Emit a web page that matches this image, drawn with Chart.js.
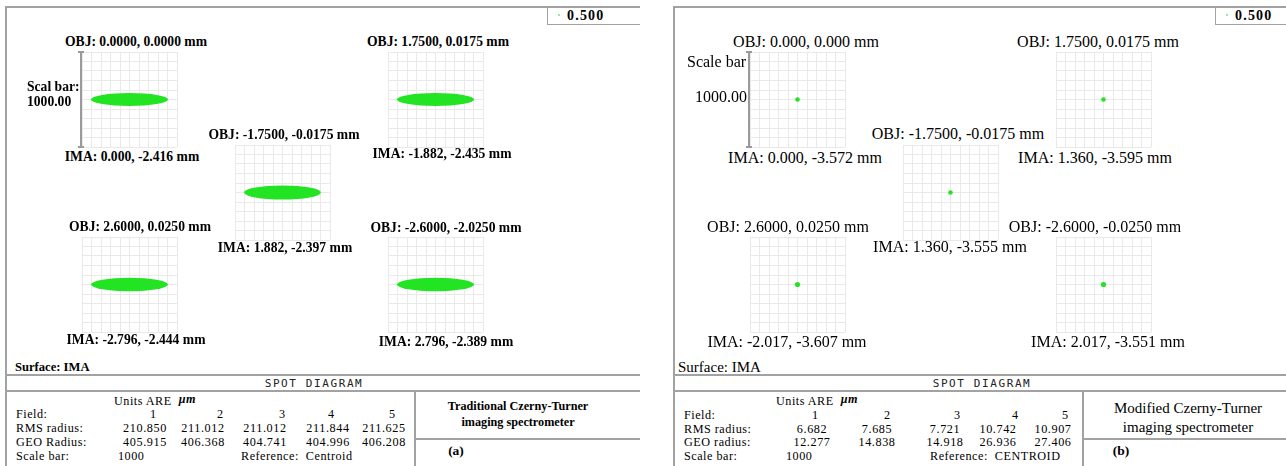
<!DOCTYPE html>
<html>
<head>
<meta charset="utf-8">
<script src="https://cdn.jsdelivr.net/npm/chart.js@4.4.1/dist/chart.umd.min.js"></script>
<style>
  html, body { margin: 0; padding: 0; background: #fff; }
  #page { position: relative; width: 1286px; height: 466px; overflow: hidden;
          font-family: "Liberation Serif", "Times New Roman", serif; color: #000; }
  .t { position: absolute; white-space: nowrap; line-height: 1; }
  .mu { font-weight: bold; font-style: italic; position: relative; top: -2px; }
  .ln { position: absolute; background: #a2a2a2; }
  canvas { position: absolute; }
</style>
</head>
<body>
<div id="page"></div>
<script>
// ---- spot diagram data (field 1..5), radii in micrometres ----
const FIELDS = [1, 2, 3, 4, 5];
const WAVELENGTH = 0.500;          // µm
const SCALE_BAR = 1000;            // µm, full height of each grid box
const GRID_STEP = 100;             // µm per grid cell

// (a) traditional Czerny-Turner
const OBJ_A = ['0.0000, 0.0000', '1.7500, 0.0175', '-1.7500, -0.0175', '2.6000, 0.0250', '-2.6000, -2.0250'];
const IMA_A = ['0.000, -2.416', '-1.882, -2.435', '1.882, -2.397', '-2.796, -2.444', '2.796, -2.389'];
const RMS_A = [210.850, 211.012, 211.012, 211.844, 211.625];
const GEO_A = [405.915, 406.368, 404.741, 404.996, 406.208];
const SPOT_HALF_HEIGHT_A = [68, 68, 74, 72, 72];   // vertical extent of the elongated spots

// (b) modified Czerny-Turner
const OBJ_B = ['0.000, 0.000', '1.7500, 0.0175', '-1.7500, -0.0175', '2.6000, 0.0250', '-2.6000, -0.0250'];
const IMA_B = ['0.000, -3.572', '1.360, -3.595', '1.360, -3.555', '-2.017, -3.607', '2.017, -3.551'];
const RMS_B = [6.682, 7.685, 7.721, 10.742, 10.907];
const GEO_B = [12.277, 14.838, 14.918, 26.936, 27.406];

// ---- page layout ----
const page = document.getElementById('page');
const GREEN = '#22e422';
const BOX = 95;      // grid box size in px
const PADL = 6;      // room left of the grid for the scale bar
const ROW = 13.8;    // table row pitch in px
const TSIZE = 12.2;  // table font size

function text(str, x, y, size, o = {}) {
  const d = document.createElement('div');
  d.className = 't';
  if (o.html) d.innerHTML = str; else d.textContent = str;
  d.style.fontSize = size + 'px';
  d.style.left = x + 'px';
  d.style.top = y + 'px';
  const ax = o.align === 'center' ? '-50%' : o.align === 'right' ? '-100%' : '0';
  d.style.transform = `translate(${ax},-50%)`;
  if (o.weight) d.style.fontWeight = o.weight;
  if (o.style) d.style.fontStyle = o.style;
  if (o.family) d.style.fontFamily = o.family;
  if (o.spacing) d.style.letterSpacing = o.spacing + 'px';
  if (o.color) d.style.color = o.color;
  page.appendChild(d);
  return d;
}
function hline(x1, x2, y, w = 2) {
  const d = document.createElement('div');
  d.className = 'ln';
  Object.assign(d.style, { left: x1 + 'px', top: (y - w / 2) + 'px', width: (x2 - x1) + 'px', height: w + 'px' });
  page.appendChild(d);
}
function vline(x, y1, y2, w = 2) {
  const d = document.createElement('div');
  d.className = 'ln';
  Object.assign(d.style, { left: (x - w / 2) + 'px', top: y1 + 'px', width: w + 'px', height: (y2 - y1) + 'px' });
  page.appendChild(d);
}

// draws every spot as a filled ellipse sized through the chart scales
const spotPlugin = {
  id: 'spot',
  afterDatasetsDraw(chart) {
    const { ctx, scales: { x, y } } = chart;
    chart.data.datasets.forEach(ds => {
      ds.data.forEach(p => {
        const cx = x.getPixelForValue(p.x);
        const cy = y.getPixelForValue(p.y);
        const rx = Math.max(Math.abs(x.getPixelForValue(p.x + p.rx) - cx), ds.minPx || 0);
        const ry = Math.max(Math.abs(y.getPixelForValue(p.y + p.ry) - cy), ds.minPx || 0);
        ctx.save();
        ctx.fillStyle = ds.backgroundColor;
        ctx.beginPath();
        ctx.ellipse(cx, cy, rx, ry, 0, 0, Math.PI * 2);
        ctx.fill();
        ctx.restore();
      });
    });
  }
};
// vertical scale bar on the left edge of the first field
const scaleBarPlugin = {
  id: 'scaleBar',
  afterDraw(chart, args, opts) {
    if (!opts.show) return;
    const { ctx, scales: { y }, chartArea } = chart;
    const x0 = chartArea.left - 1;
    const top = y.getPixelForValue(y.min + SCALE_BAR);
    const bot = y.getPixelForValue(y.min);
    ctx.save();
    ctx.strokeStyle = '#9a9a9a';
    ctx.lineWidth = 2;
    ctx.beginPath();
    ctx.moveTo(x0, top); ctx.lineTo(x0, bot);
    ctx.moveTo(x0 - 3, top); ctx.lineTo(x0 + 3, top);
    ctx.moveTo(x0 - 3, bot); ctx.lineTo(x0 + 3, bot);
    ctx.stroke();
    ctx.restore();
  }
};

function spotChart(left, top, rx, ry, minPx, withBar) {
  const c = document.createElement('canvas');
  c.width = BOX + PADL + 1; c.height = BOX + 2;
  c.style.left = (left - PADL) + 'px';
  c.style.top = (top - 1) + 'px';
  page.appendChild(c);
  const axis = {
    type: 'linear', min: -SCALE_BAR / 2, max: SCALE_BAR / 2,
    ticks: { display: false, stepSize: GRID_STEP },
    grid: { color: '#e9e9e9', lineWidth: 1, drawTicks: false },
    border: { display: false }
  };
  return new Chart(c, {
    type: 'scatter',
    data: { datasets: [{ data: [{ x: 0, y: 0, rx, ry }], pointRadius: 0, backgroundColor: GREEN, minPx }] },
    options: {
      responsive: false, animation: false, events: [],
      layout: { padding: { left: PADL, top: 1, right: 1, bottom: 1 } },
      plugins: { legend: { display: false }, tooltip: { enabled: false }, scaleBar: { show: withBar } },
      scales: { x: axis, y: JSON.parse(JSON.stringify(axis)) }
    },
    plugins: [spotPlugin, scaleBarPlugin]
  });
}

function panel(cfg) {
  const ox = cfg.ox;
  const R = ox + 640;
  // frame and table rules
  vline(ox + 6, 6, 466);
  hline(ox + 6, R, 7);
  hline(ox + 6, R, 375);
  hline(ox + 6, R, 391);
  vline(ox + 415, 391, 466);
  hline(ox + 415, R, 439);
  // wavelength legend box
  vline(ox + 547, 7, 24, 1);
  hline(ox + 547, R, 24, 1);
  const dot = document.createElement('div');
  Object.assign(dot.style, { position: 'absolute', left: (ox + 558) + 'px', top: '14px', width: '2px', height: '2px', background: '#9be89b' });
  page.appendChild(dot);
  text(WAVELENGTH.toFixed(3), ox + 567, 16, 14, { weight: 'bold', spacing: 1.2 });

  // spot grids with their labels
  FIELDS.forEach((f, i) => {
    const [gx, gy] = cfg.grid[i];
    const rx = cfg.geo[i];
    const ry = cfg.halfHeight ? cfg.halfHeight[i] : cfg.geo[i];
    spotChart(ox + gx, gy, rx, ry, cfg.minPx, i === 0);
    text('OBJ: ' + cfg.obj[i] + ' mm', cfg.objPos[i][0], cfg.objPos[i][1], cfg.labelSize, { align: 'center', weight: cfg.labelWeight });
    text('IMA: ' + cfg.ima[i] + ' mm', cfg.imaPos[i][0], cfg.imaPos[i][1], cfg.labelSize, { align: 'center', weight: cfg.labelWeight });
  });
  cfg.barText.forEach(b => text(b[0], b[1], b[2], cfg.labelSize, { weight: cfg.labelWeight }));
  text('Surface: IMA', cfg.surfaceX, 367, cfg.labelSize - 1, { weight: cfg.labelWeight });

  // summary table
  text('SPOT DIAGRAM', ox + 314, 383, 11, { align: 'center', family: '"DejaVu Sans Mono", monospace', spacing: 1.6, color: '#222' });
  const T = cfg.table;
  const y0 = T.firstRow;
  const sp = { spacing: 0.5 };
  text('Units ARE\u00a0 <span class="mu">\u03bcm</span>', T.unitsX, y0 - ROW, TSIZE, { html: true, spacing: 0.5 });
  ['Field:', 'RMS radius:', T.geoName, 'Scale bar:'].forEach((s, r) => text(s, ox + 16, y0 + r * ROW, TSIZE, sp));
  FIELDS.forEach((f, i) => {
    text(String(f), T.headX[i], y0, TSIZE, { align: 'center' });
    text(cfg.rms[i].toFixed(3), T.colX[i], y0 + ROW, TSIZE, { align: 'center', spacing: 0.6 });
    text(cfg.geo[i].toFixed(3), T.colX[i], y0 + 2 * ROW, TSIZE, { align: 'center', spacing: 0.6 });
  });
  text(String(SCALE_BAR), T.barX, y0 + 3 * ROW, TSIZE, sp);
  text('Reference:\u00a0 ' + T.ref, T.refX, y0 + 3 * ROW, TSIZE, sp);
  text(cfg.title[0], cfg.titleX, cfg.titleY[0], cfg.titleSize, { align: 'center', weight: cfg.titleWeight });
  text(cfg.title[1], cfg.titleX, cfg.titleY[1], cfg.titleSize, { align: 'center', weight: cfg.titleWeight });
  text(cfg.tag, cfg.tagX, 451, 13.5, { align: 'center', weight: 'bold' });
}

const GRID = [[82, 52], [388, 52], [235, 145], [82, 237], [388, 237]];

panel({
  ox: 0, geo: GEO_A, rms: RMS_A, halfHeight: SPOT_HALF_HEIGHT_A, minPx: 0,
  grid: GRID, obj: OBJ_A, ima: IMA_A, labelSize: 13.6, labelWeight: 'bold',
  objPos: [[136, 42], [438, 42], [284, 135], [140, 227], [446, 228]],
  imaPos: [[132, 157], [442, 154], [285, 248], [136, 340], [446, 342]],
  barText: [['Scal bar:', 27, 87], ['1000.00', 27, 102]],
  surfaceX: 15,
  table: { unitsX: 114, firstRow: 414.3,
           colX: [145, 203, 265, 328, 384], headX: [153, 220, 282, 331, 392],
           geoName: 'GEO Radius:', barX: 118, refX: 241, ref: 'Centroid' },
  title: ['Traditional Czerny-Turner', 'imaging spectrometer'], titleX: 518, titleY: [406, 422], titleSize: 12.2, titleWeight: 'bold',
  tag: '(a)', tagX: 456
});

panel({
  ox: 668, geo: GEO_B, rms: RMS_B, halfHeight: null, minPx: 2.3,
  grid: GRID, obj: OBJ_B, ima: IMA_B, labelSize: 16, labelWeight: 'normal',
  objPos: [[806, 42], [1098, 42], [958, 134], [788, 227], [1095, 227]],
  imaPos: [[805, 158], [1095, 158], [950, 247], [787, 342], [1108, 342]],
  barText: [['Scale bar', 687, 62], ['1000.00', 695, 97]],
  surfaceX: 678,
  table: { unitsX: 776, firstRow: 414.8,
           colX: [812, 877, 945, 998, 1053], headX: [815, 887, 957, 1015, 1065],
           geoName: 'GEO radius:', barX: 786, refX: 930, ref: 'CENTROID' },
  title: ['Modified Czerny-Turner', 'imaging spectrometer'], titleX: 1188, titleY: [408, 427], titleSize: 15, titleWeight: 'normal',
  tag: '(b)', tagX: 1121
});
</script>
</body>
</html>
